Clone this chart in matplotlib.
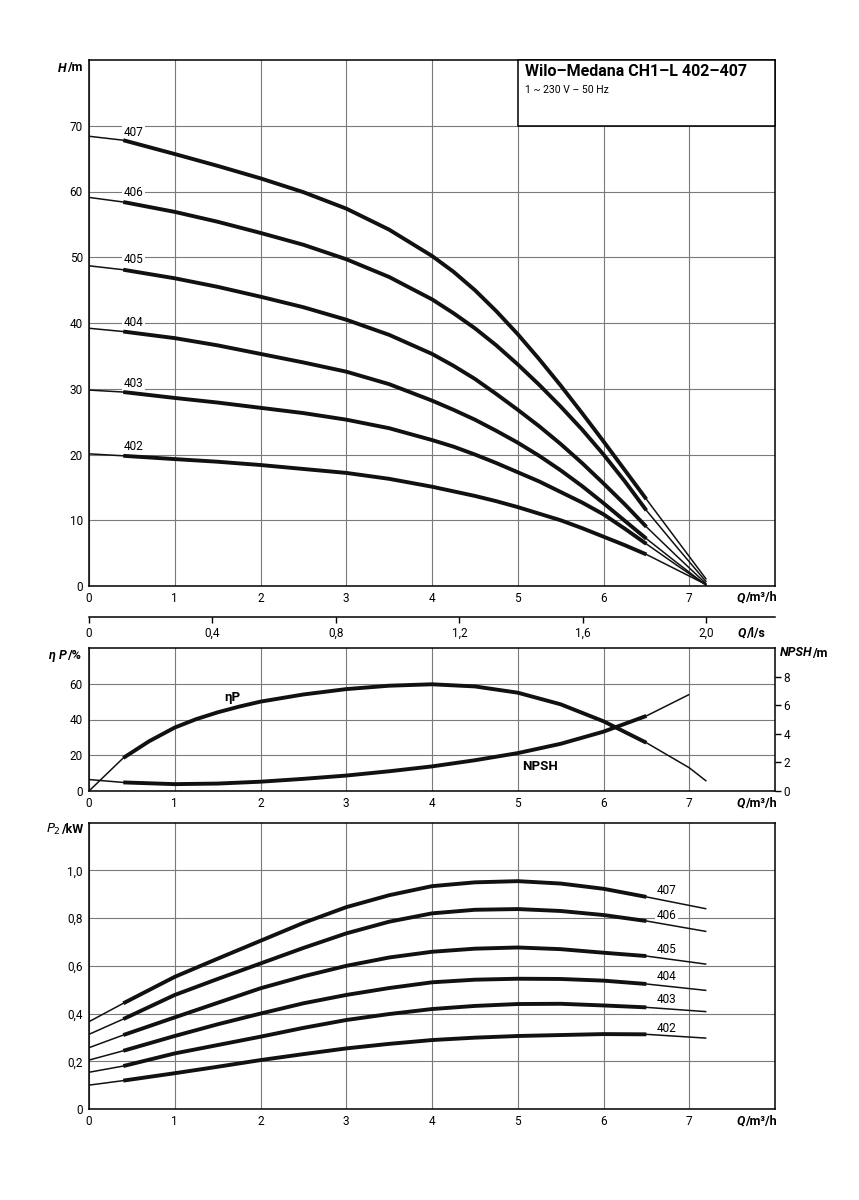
"""
Wilo-Medana CH1-L 402-407 pump curves (H, eta/NPSH, P2 against Q)
"""

import matplotlib
matplotlib.use('Agg')
import matplotlib.pyplot as plt
from matplotlib.patches import Rectangle
import numpy as np

plt.rcParams['font.family'] = ['Roboto', 'DejaVu Sans']

# ---- data ------------------------------------------------------------------
models = ['402', '403', '404', '405', '406', '407']

q_h = [0, 0.4, 1, 1.5, 2, 2.5, 3, 3.5, 4, 4.25, 4.5, 4.75, 5, 5.25, 5.5, 5.75, 6, 6.25, 6.5, 6.85, 7.2]
head = {
    '407': [68.4, 67.8, 65.7, 63.9, 62.0, 59.9, 57.4, 54.2, 50.2, 47.8, 45.0, 41.8, 38.3, 34.5, 30.5, 26.3, 22.0, 17.6, 13.2, 7.1, 1.0],
    '406': [59.1, 58.4, 56.9, 55.4, 53.7, 51.9, 49.7, 47.0, 43.6, 41.5, 39.2, 36.6, 33.7, 30.6, 27.3, 23.8, 20.0, 15.9, 11.5, 6.0, 0.6],
    '405': [48.7, 48.1, 46.8, 45.5, 44.0, 42.4, 40.5, 38.2, 35.3, 33.5, 31.5, 29.2, 26.8, 24.3, 21.6, 18.7, 15.6, 12.4, 9.0, 4.6, 0.3],
    '404': [39.2, 38.7, 37.7, 36.6, 35.3, 34.0, 32.6, 30.7, 28.2, 26.8, 25.3, 23.6, 21.8, 19.8, 17.6, 15.2, 12.6, 9.9, 7.2, 3.6, 0.1],
    '403': [29.8, 29.5, 28.6, 27.9, 27.1, 26.3, 25.3, 24.0, 22.2, 21.2, 20.0, 18.7, 17.3, 15.9, 14.3, 12.7, 10.9, 8.7, 6.4, 3.2, 0.1],
    '402': [20.1, 19.8, 19.3, 18.9, 18.4, 17.8, 17.2, 16.3, 15.1, 14.4, 13.7, 12.9, 12.0, 11.0, 10.0, 8.8, 7.5, 6.2, 4.8, 2.5, 0.2],
}
head_label_pos = {'407': 69.0, '406': 59.8, '405': 49.6, '404': 40.0, '403': 30.8, '402': 21.2}

q_eta = [0, 0.4, 0.7, 1, 1.25, 1.5, 1.75, 2, 2.5, 3, 3.5, 4, 4.5, 5, 5.5, 6, 6.5, 7, 7.2]
eta = [0, 18.5, 27.8, 35.5, 40.2, 44, 47.2, 50, 54, 57, 58.9, 59.7, 58.5, 55, 48.5, 39, 27, 13, 5.5]

q_npsh = [0, 0.4, 1, 1.5, 2, 2.5, 3, 3.5, 4, 4.5, 5, 5.5, 6, 6.5, 7]
npsh = [0.8, 0.6, 0.48, 0.52, 0.65, 0.85, 1.08, 1.38, 1.72, 2.15, 2.65, 3.3, 4.15, 5.25, 6.75]

q_p = [0, 0.4, 1, 1.5, 2, 2.5, 3, 3.5, 4, 4.5, 5, 5.5, 6, 6.5, 7.2]
power = {
    '407': [0.366, 0.443, 0.554, 0.630, 0.705, 0.780, 0.846, 0.896, 0.934, 0.950, 0.955, 0.945, 0.923, 0.889, 0.839],
    '406': [0.313, 0.377, 0.478, 0.545, 0.610, 0.675, 0.736, 0.785, 0.820, 0.835, 0.838, 0.830, 0.813, 0.788, 0.744],
    '405': [0.257, 0.310, 0.384, 0.445, 0.506, 0.556, 0.600, 0.635, 0.659, 0.672, 0.677, 0.670, 0.655, 0.641, 0.607],
    '404': [0.205, 0.244, 0.306, 0.355, 0.400, 0.443, 0.478, 0.507, 0.531, 0.542, 0.546, 0.545, 0.538, 0.524, 0.497],
    '403': [0.154, 0.180, 0.233, 0.268, 0.303, 0.340, 0.373, 0.398, 0.419, 0.432, 0.440, 0.441, 0.434, 0.426, 0.408],
    '402': [0.100, 0.119, 0.150, 0.177, 0.205, 0.230, 0.254, 0.273, 0.289, 0.299, 0.306, 0.310, 0.314, 0.313, 0.297],
}
power_label_pos = {'407': 0.917, '406': 0.813, '405': 0.669, '404': 0.554, '403': 0.460, '402': 0.338}

q_ticks = [0, 1, 2, 3, 4, 5, 6, 7]
ls_ticks = [0, 0.4, 0.8, 1.2, 1.6, 2.0]
ls_labels = ['0', '0,4', '0,8', '1,2', '1,6', '2,0']
h_ticks = [0, 10, 20, 30, 40, 50, 60, 70]
eta_ticks = [0, 20, 40, 60]
npsh_ticks = [0, 2, 4, 6, 8]
p_ticks = [0, 0.2, 0.4, 0.6, 0.8, 1.0]
p_labels = ['0', '0,2', '0,4', '0,6', '0,8', '1,0']

# operating range drawn thick
Q_LO, Q_HI = 0.4, 6.5

GRID = '#7a7a7a'
THIN = 1.1
THICK = 2.8
FS = 8.5


def draw_curve(ax, q, v):
    q = np.asarray(q, float)
    v = np.asarray(v, float)
    kw = dict(color='#111111', solid_capstyle='butt', solid_joinstyle='round', zorder=3)
    ax.plot(q, v, lw=THIN, **kw)
    m = (q >= Q_LO - 1e-9) & (q <= Q_HI + 1e-9)
    ax.plot(q[m], v[m], lw=THICK, **kw)


def style_axes(ax, yticks, ylim):
    ax.set_xlim(0, 8)
    ax.set_ylim(*ylim)
    ax.set_xticks(q_ticks)
    ax.set_yticks(yticks)
    ax.set_axisbelow(True)
    ax.grid(True, color=GRID, lw=0.8)
    ax.tick_params(length=0, labelsize=FS, pad=4.5)
    for s in ax.spines.values():
        s.set_linewidth(1.1)
        s.set_color('black')


def fig_px(x, y):
    return x / 859, 1 - y / 1200


def axis_label(x, y, ital, rest, size=9):
    # italic part right-aligned, upright part left-aligned at x
    fx, fy = fig_px(x, y)
    fig.text(fx, fy, ital, ha='right', va='center', fontsize=size,
             fontweight='bold', fontstyle='italic')
    fig.text(fx, fy, rest, ha='left', va='center', fontsize=size, fontweight='bold')


fig = plt.figure(figsize=(8.59, 12), dpi=100)

# ---- head chart ------------------------------------------------------------
ax1 = fig.add_axes([89 / 859, 1 - 586 / 1200, 686 / 859, 526 / 1200])
style_axes(ax1, h_ticks, (0, 80))
for m in models:
    draw_curve(ax1, q_h, head[m])
    ax1.text(0.52, head_label_pos[m], m, ha='center', va='center', fontsize=FS,
             zorder=2, bbox=dict(facecolor='white', edgecolor='none', pad=1.2))

ax1.add_patch(Rectangle((5, 70), 3, 10, facecolor='white', edgecolor='black',
                        lw=1.1, zorder=4, clip_on=False))
ax1.text(5.08, 78.2, 'Wilo–Medana CH1–L 402–407', fontsize=11.5, fontweight='bold',
         ha='left', va='center', zorder=5)
ax1.text(5.08, 75.4, '1 ~ 230 V – 50 Hz', fontsize=7.5, ha='left', va='center', zorder=5)

sec = ax1.secondary_xaxis(-31 / 526, functions=(lambda q: q / 3.6, lambda l: l * 3.6))
sec.set_xticks(ls_ticks)
sec.set_xticklabels(ls_labels)
sec.tick_params(length=4, width=1, direction='out', labelsize=FS, pad=3)
sec.spines['bottom'].set_linewidth(1.1)

axis_label(67, 68, 'H', '/m')
axis_label(745, 598, 'Q', '/m³/h')
axis_label(746, 633, 'Q', '/l/s')

# ---- efficiency / NPSH chart -------------------------------------------------
ax2 = fig.add_axes([89 / 859, 1 - 791 / 1200, 686 / 859, 143 / 1200])
style_axes(ax2, eta_ticks, (0, 80))
draw_curve(ax2, q_eta, eta)
ax2.text(1.67, 52.5, 'ηP', fontsize=9.5, fontweight='bold', ha='center', va='center')

ax2b = ax2.twinx()
ax2b.set_ylim(0, 10)
ax2b.set_yticks(npsh_ticks)
ax2b.tick_params(length=4, width=1, labelsize=FS, pad=2)
for s in ax2b.spines.values():
    s.set_visible(False)
draw_curve(ax2b, q_npsh, npsh)
ax2b.text(5.26, 1.72, 'NPSH', fontsize=9.5, fontweight='bold', ha='center', va='center')

axis_label(67, 656, 'η P', '/%')
axis_label(812, 653, 'NPSH', '/m')
axis_label(745, 803, 'Q', '/m³/h')

# ---- power chart -------------------------------------------------------------
ax3 = fig.add_axes([89 / 859, 1 - 1109 / 1200, 686 / 859, 286.3 / 1200])
style_axes(ax3, p_ticks, (0, 1.2))
ax3.set_yticklabels(p_labels)
for m in models:
    draw_curve(ax3, q_p, power[m])
    ax3.text(6.74, power_label_pos[m], m, ha='center', va='center', fontsize=FS,
             zorder=2, bbox=dict(facecolor='white', edgecolor='none', pad=1.2))

fx, fy = fig_px(61, 829)
fig.text(fx, fy, '$P_2$', ha='right', va='center', fontsize=9.5, fontweight='bold')
fig.text(fx, fy, '/kW', ha='left', va='center', fontsize=9, fontweight='bold')
axis_label(745, 1121, 'Q', '/m³/h')

fig.savefig('out.png', dpi=100, facecolor='white')
